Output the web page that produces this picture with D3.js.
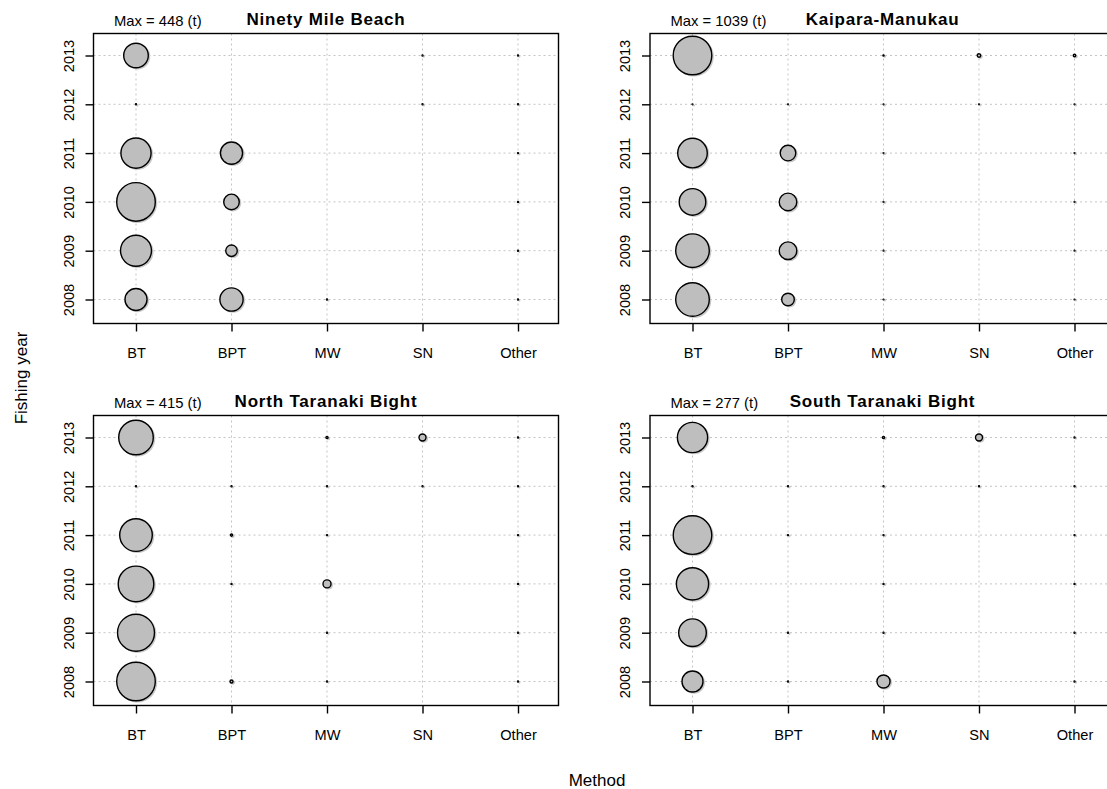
<!DOCTYPE html>
<html>
<head>
<meta charset="utf-8">
<script src="https://cdn.jsdelivr.net/npm/d3@7"></script>
<style>
  html, body { margin: 0; padding: 0; background: #fff; }
  svg { display: block; font-family: "Liberation Sans", Arial, sans-serif; }
</style>
</head>
<body>
<svg id="chart" width="1107" height="789"></svg>
<script>
// Catch (t) by fishing year and method, one matrix per area.
// Rows follow `years`, columns follow `methods`; 0 means no catch recorded.
const methods = ["BT", "BPT", "MW", "SN", "Other"];
const years = [2008, 2009, 2010, 2011, 2012, 2013];
const areaNames = ["Ninety Mile Beach", "Kaipara-Manukau", "North Taranaki Bight", "South Taranaki Bight"];

const ninetyMileBeach = [
  [146, 162, 0.3, 0, 0.3],
  [289, 40, 0, 0, 0.3],
  [448, 73, 0, 0, 0.3],
  [274, 148, 0, 0, 0.3],
  [0.3, 0, 0, 0.3, 0.3],
  [182, 0, 0, 0.3, 0.3]
];
const kaiparaManukau = [
  [787, 111, 0.5, 0, 0.5],
  [787, 216, 0.5, 0, 0.5],
  [493, 216, 0.5, 0, 0.5],
  [611, 170, 0.5, 0, 0.5],
  [0.5, 0.5, 0.5, 0.5, 0.5],
  [1039, 0, 1, 9, 4.5]
];
const northTaranakiBight = [
  [415, 2.5, 0.3, 0, 0.3],
  [381, 0, 0.3, 0, 0.3],
  [353, 0.3, 17.8, 0, 0.3],
  [296, 1.3, 0.3, 0, 0.3],
  [0.3, 0.3, 0.3, 0.3, 0.3],
  [333, 0, 1.3, 13.6, 0.3]
];
const southTaranakiBight = [
  [82, 0.2, 32, 0, 0.2],
  [142, 0.2, 0.2, 0, 0.2],
  [193, 0, 0.2, 0, 0.2],
  [277, 0.2, 0.2, 0, 0.2],
  [0.2, 0.2, 0.2, 0.2, 0.2],
  [170, 0, 0.9, 9.1, 0.2]
];
const areaValues = [ninetyMileBeach, kaiparaManukau, northTaranakiBight, southTaranakiBight];

const svg = d3.select("#chart");
const W = 465, H = 290;
const origins = [[93.5, 33.5], [650, 33.5], [93.5, 415.5], [650, 415.5]];

const x = d3.scalePoint().domain(methods).range([42.5, 424.5]);
const y = d3.scalePoint().domain(years).range([266, 22]);
const rMax = 19.3;

areaNames.forEach((name, i) => {
  const [L, T] = origins[i];
  const vals = areaValues[i];
  const maxVal = d3.max(vals.flat());
  const r = d3.scaleSqrt().domain([0, maxVal]).range([0, rMax]);
  const g = svg.append("g").attr("transform", `translate(${L},${T})`);

  // dotted reference grid
  const grid = g.append("g").attr("stroke", "#c4c4c4").attr("stroke-width", 1)
    .attr("stroke-dasharray", "2,3");
  grid.selectAll("line.v").data(methods).join("line").attr("class", "v")
    .attr("x1", d => x(d)).attr("x2", d => x(d)).attr("y1", 0).attr("y2", H);
  grid.selectAll("line.h").data(years).join("line").attr("class", "h")
    .attr("y1", d => y(d)).attr("y2", d => y(d)).attr("x1", 0).attr("x2", W);

  // bubbles
  const cells = [];
  vals.forEach((row, yi) => row.forEach((v, mi) => {
    if (v > 0) cells.push({ year: years[yi], method: methods[mi], v });
  }));
  g.append("g").selectAll("circle").data(cells).join("circle")
    .attr("cx", d => x(d.method) + 1.4).attr("cy", d => y(d.year) + 1.1)
    .attr("r", d => r(d.v) + 0.6)
    .attr("fill", "#c8c8c8");
  g.append("g").selectAll("circle").data(cells).join("circle")
    .attr("cx", d => x(d.method)).attr("cy", d => y(d.year))
    .attr("r", d => r(d.v))
    .attr("fill", "#bebebe").attr("stroke", "#000").attr("stroke-width", 1.4);

  // frame
  g.append("rect").attr("width", W).attr("height", H)
    .attr("fill", "none").attr("stroke", "#000").attr("stroke-width", 1.4);

  // axes
  const xa = g.append("g").attr("transform", `translate(0,${H})`)
    .call(d3.axisBottom(x).tickSize(8).tickPadding(0));
  xa.select(".domain").remove();
  xa.selectAll("line").attr("stroke-width", 1.4);
  xa.selectAll("text").attr("dy", 0).attr("y", 34)
    .attr("font-size", "14.6px").attr("fill", "#000");

  const ya = g.append("g").call(d3.axisLeft(y).tickSize(8).tickFormat(d3.format("d")));
  ya.select(".domain").remove();
  ya.selectAll("line").attr("stroke-width", 1.4);
  ya.selectAll("text").attr("x", 0).attr("y", -20).attr("dy", 0)
    .attr("text-anchor", "middle").attr("transform", "rotate(-90)")
    .attr("font-size", "14.6px").attr("fill", "#000");

  // panel title and max label
  g.append("text").attr("x", W / 2).attr("y", -8.5).attr("text-anchor", "middle")
    .attr("font-weight", "bold").attr("font-size", "17px").attr("letter-spacing", "0.8px")
    .text(name);
  g.append("text").attr("x", 20.5).attr("y", -7.5)
    .attr("font-size", "14.8px")
    .text(`Max = ${d3.format("d")(maxVal)} (t)`);
});

// shared axis titles
svg.append("text").attr("x", 597).attr("y", 786).attr("text-anchor", "middle")
  .attr("font-size", "17px").text("Method");
svg.append("text").attr("transform", "translate(26.5,378) rotate(-90)")
  .attr("text-anchor", "middle").attr("font-size", "17px").text("Fishing year");
</script>
</body>
</html>
